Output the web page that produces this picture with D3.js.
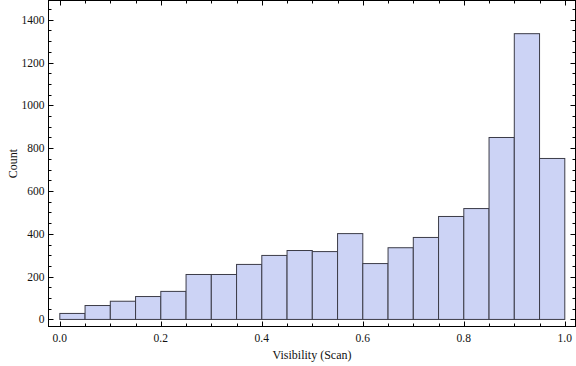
<!DOCTYPE html>
<html><head><meta charset="utf-8">
<script src="https://cdn.jsdelivr.net/npm/d3@7"></script>
<style>body{margin:0;background:#fff}svg{display:block}text{font-family:"Liberation Serif","DejaVu Serif",serif;}</style>
</head><body><svg id="c" width="576" height="366"></svg>
<script>
const binStarts = [0,0.05,0.1,0.15,0.2,0.25,0.3,0.35,0.4,0.45,0.5,0.55,0.6,0.65,0.7,0.75,0.8,0.85,0.9,0.95];
const binWidth = 0.05;
const counts = [28,65,85,107,131,210,210,257,299,322,317,401,261,335,383,481,518,850,1335,752];
const xTicks = [0,0.2,0.4,0.6,0.8,1.0];
const yTicks = [0,200,400,600,800,1000,1200,1400];

const svg = d3.select("#c");
const L=48.5, R=575.5, T=0.5, B=326.5;
const x = d3.scaleLinear().domain([-0.0224,1.0212]).range([L,R]);
const y = d3.scaleLinear().domain([-33,1490]).range([B,T]);

const fmtX = d3.format(".1f");
const g = svg.append("g");
g.selectAll("rect").data(counts).enter().append("rect")
 .attr("x",(d,i)=>x(binStarts[i]))
 .attr("width",(d,i)=>x(binStarts[i]+binWidth)-x(binStarts[i]))
 .attr("y",d=>y(d))
 .attr("height",d=>y(0)-y(d))
 .attr("fill","#ccd3f5").attr("stroke","#3c3c48").attr("stroke-width",1);

// frame
svg.append("rect").attr("x",L).attr("y",T).attr("width",R-L).attr("height",B-T)
 .attr("fill","none").attr("stroke","#000").attr("stroke-width",1);

const xMinor = d3.range(0,1.001,0.05).filter(v=>!xTicks.some(t=>Math.abs(t-v)<1e-6));
const yMinor = d3.range(0,1451,50).filter(v=>v%200!==0);
const tk = svg.append("g").attr("stroke","#000").attr("stroke-width",1);
function xt(vals,len){vals.forEach(v=>{const px=Math.round(x(v))+0.5;
 tk.append("line").attr("x1",px).attr("x2",px).attr("y1",B).attr("y2",B-len);
 tk.append("line").attr("x1",px).attr("x2",px).attr("y1",T).attr("y2",T+len);});}
function yt(vals,len){vals.forEach(v=>{const py=Math.round(y(v))+0.5;
 tk.append("line").attr("x1",L).attr("x2",L+len).attr("y1",py).attr("y2",py);
 tk.append("line").attr("x1",R).attr("x2",R-len).attr("y1",py).attr("y2",py);});}
xt(xTicks,5); xt(xMinor,3); yt(yTicks,5); yt(yMinor,3);

svg.append("g").selectAll("text").data(xTicks).enter().append("text")
 .attr("x",d=>x(d)).attr("y",342).attr("text-anchor","middle")
 .attr("font-size",11.5).attr("fill","#111").text(d=>fmtX(d));
svg.append("g").selectAll("text").data(yTicks).enter().append("text")
 .attr("x",44.5).attr("y",d=>y(d)+4).attr("text-anchor","end")
 .attr("font-size",11.5).attr("fill","#111").text(d=>d);

svg.append("text").attr("x",(L+R)/2).attr("y",359).attr("text-anchor","middle")
 .attr("font-size",12).attr("fill","#111").text("Visibility (Scan)");
svg.append("text").attr("transform",`translate(13,${(T+B)/2}) rotate(-90)`).attr("text-anchor","middle")
 .attr("dy","0.35em").attr("font-size",12).attr("fill","#111").text("Count");
</script></body></html>
